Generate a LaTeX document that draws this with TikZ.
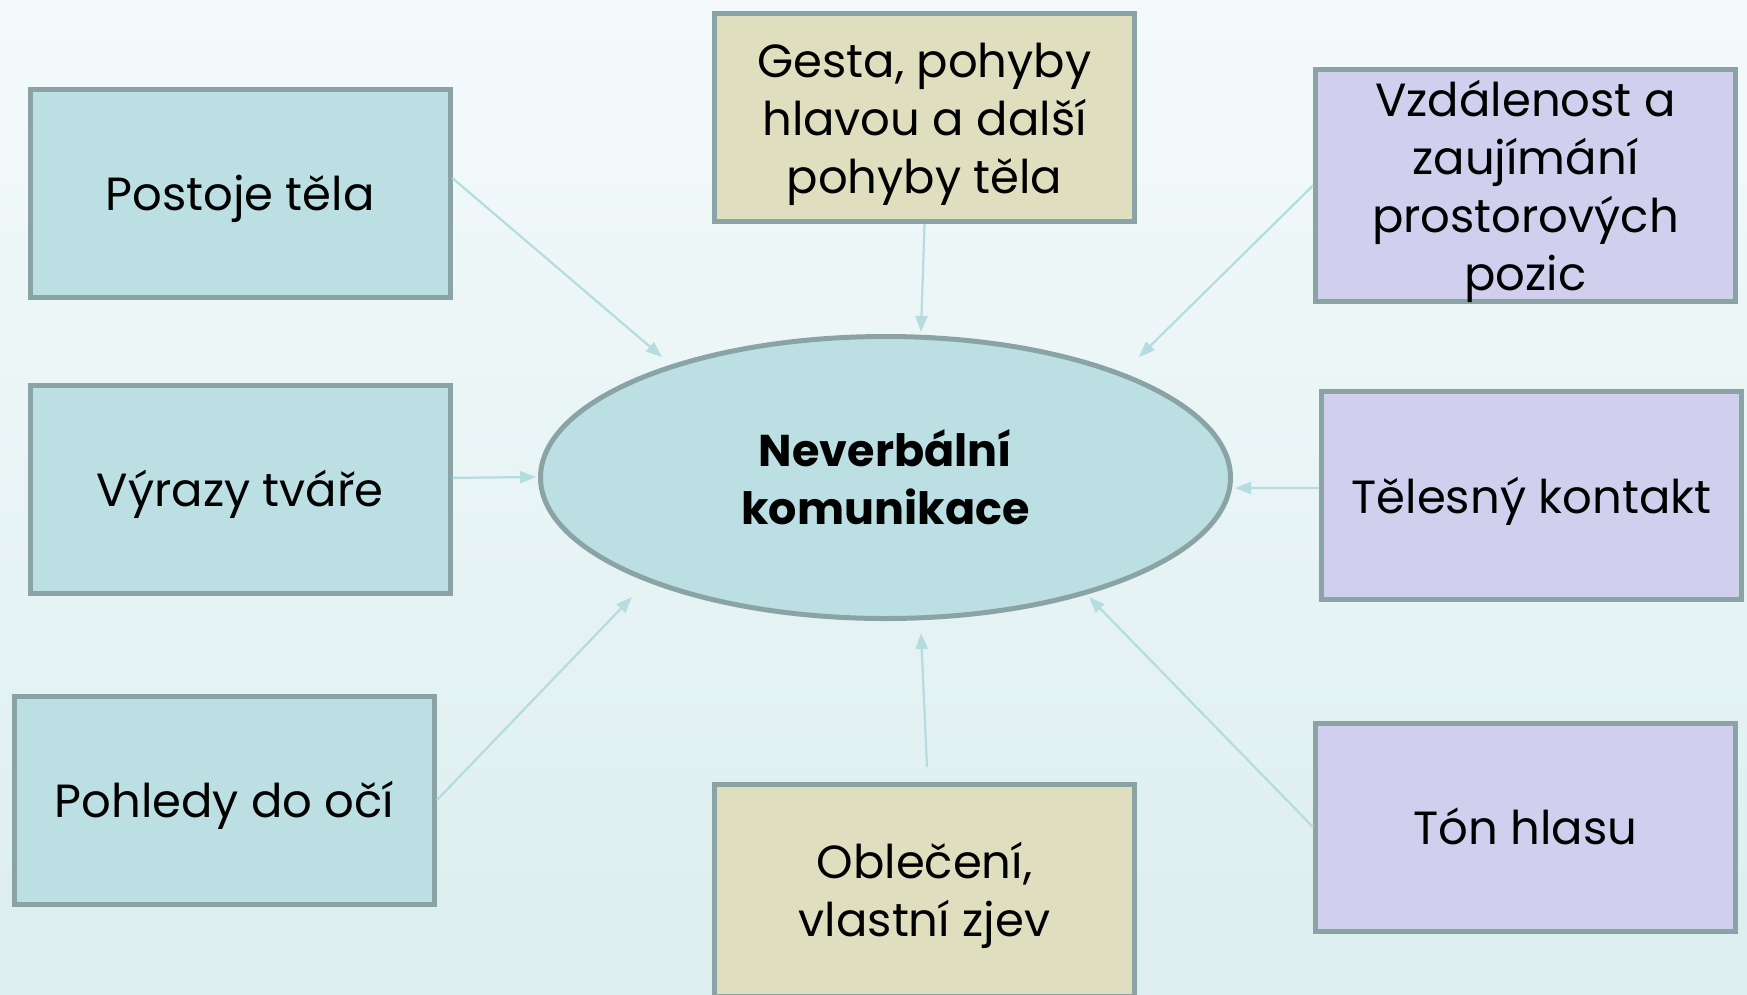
\documentclass[tikz,border=0pt]{standalone}
\usepackage{fontspec}
\setmainfont{Poppins}
\usetikzlibrary{arrows.meta,shapes.geometric}
\definecolor{bgtop}{HTML}{F4FAFB}
\definecolor{bgbot}{HTML}{DCEEEF}
\definecolor{tealfill}{HTML}{BBDFE2}
\definecolor{olivefill}{HTML}{DFDFBF}
\definecolor{lavfill}{HTML}{D0D0EE}
\definecolor{edgegray}{HTML}{8AA4A6}
\definecolor{arrowcol}{HTML}{B5DCDF}
\newcommand{\boxtext}[1]{\raisebox{-6pt}[\height][\depth]{\begin{tabular}{@{}c@{}}#1\end{tabular}}}
\tikzset{
  box/.style={draw=edgegray, line width=5pt, rectangle, minimum width=420pt, minimum height=208pt,
    align=center, inner sep=0pt, font=\fontsize{46.5}{58}\selectfont, text=black},
  tealbox/.style={box, fill=tealfill},
  olivebox/.style={box, fill=olivefill},
  lavbox/.style={box, fill=lavfill},
  conn/.style={draw=arrowcol, line width=2.2pt, -{Triangle[length=16pt,width=12pt]}},
}
\begin{document}
\begin{tikzpicture}[x=1pt,y=-1pt]
\shade[top color=bgtop, bottom color=bgbot] (0,0) rectangle (1747,994);
\useasboundingbox (0,0) rectangle (1747,994);
\node[ellipse, draw=edgegray, line width=5pt, fill=tealfill, minimum width=690pt, minimum height=282pt,
  inner sep=0pt, align=center, font=\bfseries\fontsize{44.5}{58}\selectfont] (c) at (885.5,477.5) {Neverbální\\komunikace};
\node[tealbox] (post) at (240,193) {\boxtext{Postoje těla}};
\node[tealbox] (vyr) at (240,489) {\boxtext{Výrazy tváře}};
\node[tealbox] (pohl) at (224.5,800) {\boxtext{Pohledy do očí}};
\node[olivebox] (gest) at (924.5,117.5) {\boxtext{Gesta, pohyby\\hlavou a další\\pohyby těla}};
\node[olivebox, minimum height=212pt] (obl) at (924.5,890) {\boxtext{Oblečení,\\vlastní zjev}};
\node[lavbox, minimum height=222pt] (vzd) at (1525.5,185.5) {\boxtext{Vzdálenost a\\zaujímání\\prostorových\\pozic}};
\node[lavbox] (tel) at (1531.5,495.5) {\boxtext{Tělesný kontakt}};
\node[lavbox] (ton) at (1525.5,827) {\boxtext{Tón hlasu}};
\coordinate (tpost) at (662,357);
\coordinate (tgest) at (921,332);
\coordinate (tvzd) at (1139,357);
\coordinate (tvyr) at (536,477);
\coordinate (ttel) at (1235,488);
\coordinate (tpohl) at (632,597);
\coordinate (tobl) at (921,633);
\coordinate (tton) at (1089,597);
\coordinate (sobl) at (927,767);
\draw[conn] (post.4) -- (tpost);
\draw[conn] (gest.south) -- (tgest);
\draw[conn] (vzd.west) -- (tvzd);
\draw[conn] (vyr.3) -- (tvyr);
\draw[conn] (tel.178) -- (ttel);
\draw[conn] (pohl.east) -- (tpohl);
\draw[conn] (sobl) -- (tobl);
\draw[conn] (ton.west) -- (tton);
\end{tikzpicture}
\end{document}
